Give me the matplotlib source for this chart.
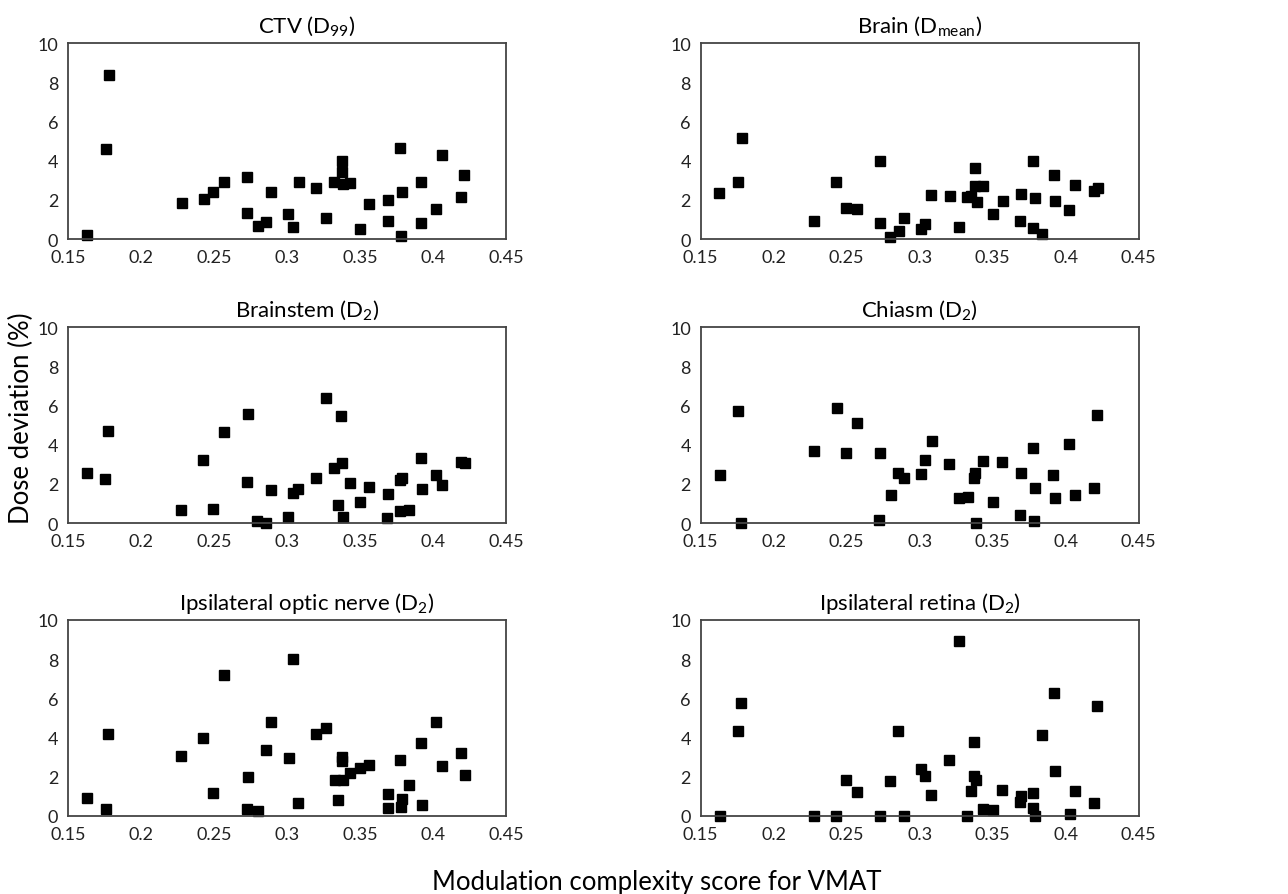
import numpy as np
import matplotlib.pyplot as plt

plt.rcParams['font.family'] = ['Lato', 'DejaVu Sans']

titles = ["CTV ($\\mathregular{D_{99}}$)", "Brain ($\\mathregular{D_{mean}}$)",
          "Brainstem ($\\mathregular{D_2}$)", "Chiasm ($\\mathregular{D_2}$)",
          "Ipsilateral optic nerve ($\\mathregular{D_2}$)", "Ipsilateral retina ($\\mathregular{D_2}$)"]

ctv_x = [0.163, 0.176, 0.178, 0.228, 0.243, 0.2495, 0.257, 0.2727, 0.2725, 0.280, 0.2855, 0.289,
         0.301, 0.304, 0.308, 0.320, 0.327, 0.3325, 0.3375, 0.3375, 0.3385, 0.343, 0.350, 0.356,
         0.369, 0.369, 0.3775, 0.378, 0.379, 0.392, 0.392, 0.402, 0.4065, 0.419, 0.4215]
ctv_y = [0.2, 4.57, 8.38, 1.86, 2.03, 2.40, 2.93, 3.15, 1.33, 0.68, 0.85, 2.42,
         1.26, 0.60, 2.90, 2.62, 1.06, 2.93, 3.97, 3.44, 2.79, 2.88, 0.51, 1.81,
         1.98, 0.92, 4.67, 0.14, 2.42, 2.93, 0.80, 1.52, 4.29, 2.16, 3.29]

brain_x = [0.1628, 0.1758, 0.178, 0.2277, 0.243, 0.2493, 0.2573, 0.2728, 0.2726, 0.280, 0.2858,
           0.289, 0.301, 0.304, 0.308, 0.3206, 0.327, 0.3327, 0.335, 0.3377, 0.3377, 0.339,
           0.3434, 0.3505, 0.3568, 0.3694, 0.369, 0.3778, 0.378, 0.379, 0.3837, 0.392, 0.3926,
           0.4024, 0.4067, 0.4195, 0.422]
brain_y = [2.33, 2.92, 5.13, 0.93, 2.92, 1.60, 1.55, 3.96, 0.80, 0.10, 0.39,
           1.05, 0.51, 0.78, 2.26, 2.19, 0.59, 2.14, 2.21, 3.60, 2.72, 1.88,
           2.72, 1.27, 1.92, 2.29, 0.90, 3.97, 0.54, 2.11, 0.25, 3.26, 1.92,
           1.48, 2.78, 2.44, 2.58]

brainstem_x = [0.1627, 0.1755, 0.1774, 0.2274, 0.2426, 0.2492, 0.2571, 0.273, 0.2723, 0.2797,
               0.2854, 0.2891, 0.3008, 0.304, 0.3075, 0.3202, 0.3268, 0.3324, 0.3349, 0.3374,
               0.3372, 0.3381, 0.343, 0.3503, 0.3563, 0.3692, 0.3687, 0.3772, 0.3788, 0.3777,
               0.3834, 0.3917, 0.3922, 0.4023, 0.4062, 0.4191, 0.4217]
brainstem_y = [2.55, 2.24, 4.72, 0.67, 3.23, 0.72, 4.65, 5.54, 2.09, 0.10,
               0.0, 1.69, 0.32, 1.52, 1.74, 2.29, 6.39, 2.80, 0.92, 3.06,
               5.44, 0.32, 2.02, 1.06, 1.85, 1.50, 0.27, 2.22, 2.32, 0.60,
               0.68, 3.33, 1.74, 2.46, 1.95, 3.09, 3.06]

chiasm_x = [0.1629, 0.1757, 0.1777, 0.2275, 0.2431, 0.2495, 0.2574, 0.2728, 0.2725, 0.2802,
            0.2855, 0.2891, 0.301, 0.304, 0.3082, 0.3203, 0.327, 0.3328, 0.3374, 0.3376,
            0.3385, 0.3431, 0.3505, 0.3564, 0.3693, 0.3689, 0.3776, 0.3792, 0.3783, 0.3916,
            0.3925, 0.4026, 0.4063, 0.4192, 0.4217]
chiasm_y = [2.47, 5.74, 0.02, 3.66, 5.88, 3.59, 5.08, 3.59, 0.14, 1.41,
            2.57, 2.30, 2.52, 3.19, 4.17, 3.03, 1.26, 1.33, 2.30, 2.57,
            0.02, 3.15, 1.07, 3.12, 2.57, 0.39, 3.83, 1.81, 0.09, 2.44,
            1.26, 4.05, 1.45, 1.81, 5.52]

optic_x = [0.1629, 0.1758, 0.1776, 0.2276, 0.2428, 0.2495, 0.2571, 0.273, 0.2725, 0.2799,
           0.2854, 0.2891, 0.3011, 0.304, 0.3077, 0.3202, 0.3268, 0.3326, 0.3351, 0.3374,
           0.3377, 0.3384, 0.3432, 0.3503, 0.3565, 0.3694, 0.369, 0.3775, 0.3791, 0.378,
           0.3837, 0.3918, 0.3925, 0.4024, 0.4065, 0.4192, 0.4217]
optic_y = [0.94, 0.36, 4.17, 3.08, 4.00, 1.18, 7.21, 1.98, 0.36, 0.26,
           3.34, 4.80, 2.95, 8.02, 0.65, 4.17, 4.51, 1.82, 0.80, 3.03,
           2.78, 1.81, 2.18, 2.44, 2.61, 1.11, 0.41, 2.86, 0.85, 0.44,
           1.57, 3.70, 0.56, 4.80, 2.54, 3.19, 2.08]

retina_x = [0.1629, 0.1757, 0.1778, 0.2273, 0.243, 0.2496, 0.2572, 0.2726, 0.2797, 0.2855,
            0.2893, 0.3012, 0.304, 0.3077, 0.3203, 0.3272, 0.3327, 0.3352, 0.3373, 0.3375,
            0.3387, 0.3433, 0.3506, 0.3564, 0.3687, 0.3694, 0.3779, 0.3779, 0.3793, 0.3841,
            0.3921, 0.3926, 0.4027, 0.4066, 0.4192, 0.4215]
retina_y = [0.0, 4.31, 5.78, 0.0, 0.0, 1.82, 1.24, 0.0, 1.77, 4.31,
            0.0, 2.40, 2.06, 1.07, 2.83, 8.91, 0.0, 1.28, 3.75, 2.03,
            1.82, 0.36, 0.31, 1.33, 0.72, 1.02, 1.18, 0.43, 0.0, 4.11,
            6.25, 2.28, 0.12, 1.28, 0.65, 5.60]

xs = [ctv_x, brain_x, brainstem_x, chiasm_x, optic_x, retina_x]
ys = [ctv_y, brain_y, brainstem_y, chiasm_y, optic_y, retina_y]

xticks = [0.15, 0.2, 0.25, 0.3, 0.35, 0.4, 0.45]
xticklabels = ["0.15", "0.2", "0.25", "0.3", "0.35", "0.4", "0.45"]
yticks = [0, 2, 4, 6, 8, 10]

fig = plt.figure(figsize=(12.88, 8.95), dpi=100)
lefts = [0.0528, 0.544]
bottoms = [0.7318, 0.4145, 0.0872]
title_x = [0.545, 0.5]  # left column titles sit a bit right of centre

for i in range(6):
    ax = fig.add_axes([lefts[i % 2], bottoms[i // 2], 0.340, 0.219])
    ax.plot(xs[i], ys[i], "ks", markersize=6.5, linestyle="none", clip_on=False)
    ax.set_xlim(0.15, 0.45)
    ax.set_ylim(0, 10)
    ax.set_xticks(xticks)
    ax.set_xticklabels(xticklabels)
    ax.set_yticks(yticks)
    ax.tick_params(length=0, labelsize=13, pad=7, colors="#222222")
    for s in ax.spines.values():
        s.set_color("#444444")
        s.set_linewidth(1.3)
    ax.set_title(titles[i], fontsize=16, pad=8, x=title_x[i % 2])

fig.text(0.017, 0.533, "Dose deviation (%)", rotation=90, fontsize=18.5, ha="center", va="center")
fig.text(0.51, 0.014, "Modulation complexity score for VMAT", fontsize=18.5, ha="center", va="center")

plt.savefig("out.png", dpi=100)
